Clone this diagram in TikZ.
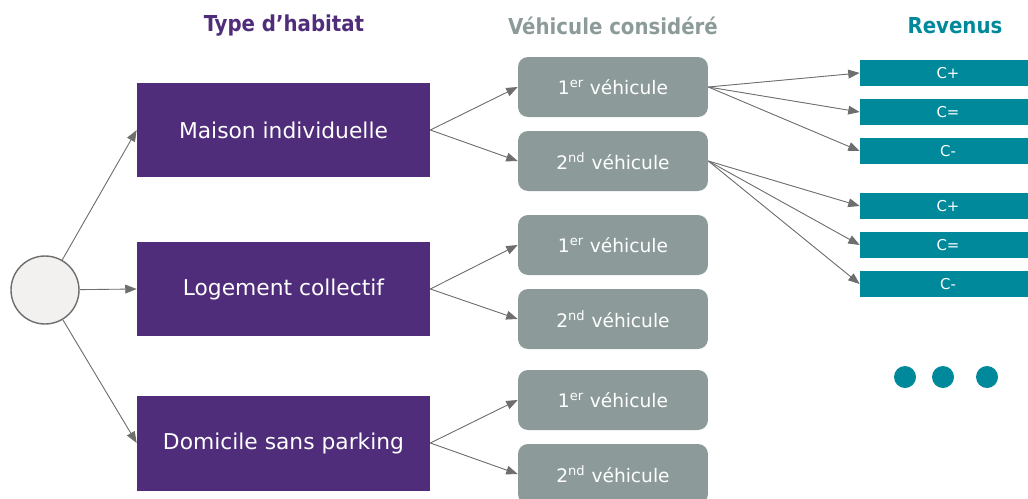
\documentclass[tikz,border=0pt]{standalone}
\usepackage{fontspec}
\setmainfont{DejaVu Sans}
\newfontfamily\headfont{DejaVu Sans Condensed}
\usetikzlibrary{arrows.meta}
\definecolor{habitat}{HTML}{4F2D7A}
\definecolor{vehicule}{HTML}{8C9B9A}
\definecolor{revenu}{HTML}{00899A}
\definecolor{trait}{HTML}{6E6E6E}
\definecolor{depart}{HTML}{F2F1EF}

\begin{document}
\begin{tikzpicture}[x=0.02cm,y=-0.02cm,>={Triangle[length=6.5pt,width=5pt]},
  habitatbox/.style={fill=habitat,text=white,minimum width=5.86cm,minimum height=1.9cm,inner sep=0pt,font=\fontsize{12.4}{14}\selectfont},
  vehiculebox/.style={fill=vehicule,text=white,rounded corners=0.2cm,minimum width=3.8cm,minimum height=1.2cm,inner sep=0pt,font=\fontsize{10.6}{12}\selectfont},
  revenubox/.style={fill=revenu,text=white,minimum width=3.52cm,minimum height=0.52cm,inner sep=0pt,font=\fontsize{8.5}{10}\selectfont},
  titre/.style={font=\headfont\bfseries\fontsize{12.5}{14}\selectfont},
  fleche/.style={->,draw=trait,fill=trait,line width=0.5pt}]
\useasboundingbox (0,0) rectangle (1028,498);

\node[titre,text=habitat] (t1) at (284,26) {Type d’habitat};
\node[titre,text=vehicule] (t2) at (613,26) {Véhicule considéré};
\node[titre,text=revenu] (t3) at (955,26) {Revenus};

\node[circle,draw=trait,fill=depart,line width=0.8pt,minimum size=1.36cm] (o) at (45,290) {};

\node[habitatbox] (h1) at (283.5,130) {Maison individuelle};
\node[habitatbox] (h2) at (283.5,289) {Logement collectif};
\node[habitatbox] (h3) at (283.5,443) {Domicile sans parking};

\node[vehiculebox] (v11) at (613,87) {1\textsuperscript{er} véhicule};
\node[vehiculebox] (v12) at (613,161) {2\textsuperscript{nd} véhicule};
\node[vehiculebox] (v21) at (613,245) {1\textsuperscript{er} véhicule};
\node[vehiculebox] (v22) at (613,319) {2\textsuperscript{nd} véhicule};
\node[vehiculebox] (v31) at (613,400) {1\textsuperscript{er} véhicule};
\node[vehiculebox] (v32) at (613,474) {2\textsuperscript{nd} véhicule};

\node[revenubox] (r11) at (948,73) {C+};
\node[revenubox] (r12) at (948,112) {C=};
\node[revenubox] (r13) at (948,151) {C-};
\node[revenubox] (r21) at (948,206) {C+};
\node[revenubox] (r22) at (948,245) {C=};
\node[revenubox] (r23) at (948,284) {C-};

\fill[revenu] (905,377) circle (11);
\fill[revenu] (943,377) circle (11);
\fill[revenu] (987,377) circle (11);

\foreach \i in {1,2,3}
  \draw[fleche] (o) -- (h\i.west);
\foreach \i in {1,2,3}{
  \draw[fleche] (h\i.east) -- (v\i1.west);
  \draw[fleche] (h\i.east) -- (v\i2.west);
}
\foreach \j in {1,2,3}{
  \draw[fleche] (v11.east) -- (r1\j.west);
  \draw[fleche] (v12.east) -- (r2\j.west);
}
\end{tikzpicture}
\end{document}
